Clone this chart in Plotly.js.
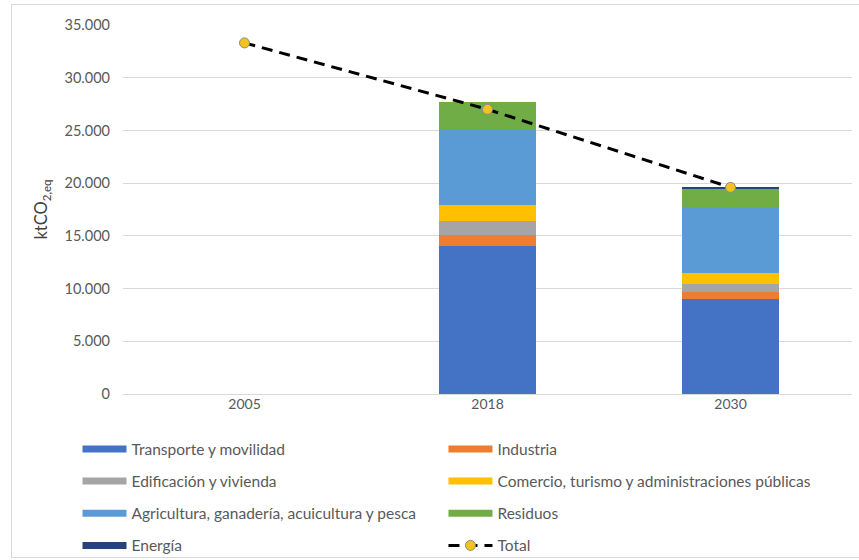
<!DOCTYPE html>
<html>
<head>
<meta charset="utf-8">
<script src="https://cdn.plot.ly/plotly-3.0.1.min.js"></script>
<style>
  html, body { margin: 0; padding: 0; background: #fff; }
  #wrap { position: relative; width: 859px; height: 560px; overflow: hidden; }
  #chart { width: 859px; height: 560px; }
  #frame { position: absolute; left: 11px; top: 4px; width: 860px; height: 552px;
           border: 1px solid #d9d9d9; pointer-events: none; }
</style>
</head>
<body>
<div id="wrap"><div id="chart"></div><div id="frame"></div></div>
<script>
// ---- data ----
const years = ['2005', '2018', '2030'];
const transporte  = [null, 14000, 9000];
const industria   = [null, 1100, 700];
const edificacion = [null, 1300, 700];
const comercio    = [null, 1500, 1100];
const agricultura = [null, 7200, 6200];
const residuos    = [null, 2600, 1700];
const energia     = [null, 0, 200];
const total       = [33300, 27000, 19600];

const seriesNames = [
  'Transporte y movilidad', 'Industria', 'Edificación y vivienda',
  'Comercio, turismo y administraciones públicas',
  'Agricultura, ganadería, acuicultura y pesca', 'Residuos', 'Energía'
];
const seriesValues = [transporte, industria, edificacion, comercio, agricultura, residuos, energia];
const colors = ['#4472C4', '#ED7D31', '#A5A5A5', '#FFC000', '#5B9BD5', '#70AD47', '#264478'];
// legend column for each series (left / right)
const legendCol = ['legend', 'legend2', 'legend', 'legend2', 'legend', 'legend2', 'legend'];

const traces = [];
seriesNames.forEach((name, i) => {
  traces.push({
    type: 'bar', x: years, y: seriesValues[i], name: name,
    marker: { color: colors[i], line: { width: 0 } },
    legendgroup: 'g' + i, showlegend: false, hoverinfo: 'x+y+name'
  });
});
// legend-only entries (wide flat swatches like the original)
seriesNames.forEach((name, i) => {
  traces.push({
    type: 'scatter', mode: 'lines', x: [null], y: [null], name: name,
    line: { color: colors[i], width: 7 },
    legendgroup: 'g' + i, legend: legendCol[i], showlegend: true, hoverinfo: 'skip'
  });
});
traces.push({
  type: 'scatter', mode: 'lines+markers', x: years, y: total, name: 'Total',
  line: { color: '#000000', width: 3, dash: '11px,7px' },
  marker: { color: '#F2C318', size: 10, line: { color: '#8a8a8a', width: 1 } },
  legendgroup: 'gt', legend: 'legend2', showlegend: true
});

const fam = 'Lato, "Liberation Sans", sans-serif';
const legendBase = {
  orientation: 'v', xanchor: 'left', yanchor: 'top', traceorder: 'grouped',
  tracegroupgap: 9, itemwidth: 44,
  font: { family: fam, size: 15.5, color: '#595959' },
  bgcolor: 'rgba(0,0,0,0)', borderwidth: 0
};

const layout = {
  width: 859, height: 560,
  margin: { l: 123, r: 7, t: 25, b: 166, autoexpand: false },
  paper_bgcolor: '#ffffff', plot_bgcolor: '#ffffff',
  font: { family: fam, size: 14, color: '#595959' },
  separators: ',.',
  barmode: 'stack', bargap: 0.6,
  xaxis: {
    type: 'category', categoryorder: 'array', categoryarray: years,
    showgrid: false, zeroline: false, showline: false, ticks: '',
    tickfont: { size: 14, color: '#595959' }, fixedrange: true
  },
  yaxis: {
    range: [0, 35000], dtick: 5000, tickformat: ',d',
    showgrid: true, gridcolor: '#d9d9d9', gridwidth: 1,
    zeroline: true, zerolinecolor: '#d9d9d9', zerolinewidth: 1,
    showline: false, ticks: '', ticklabelstandoff: 12,
    tickfont: { size: 14.5, color: '#595959' },
    title: { text: 'ktCO<sub>2,eq</sub>', font: { size: 16.5, color: '#404040' }, standoff: 12 },
    fixedrange: true
  },
  legend: Object.assign({}, legendBase, { x: -0.0624, y: -0.104 }),
  legend2: Object.assign({}, legendBase, { x: 0.4396, y: -0.104 }),
  showlegend: true
};

Plotly.newPlot('chart', traces, layout, { displayModeBar: false, responsive: false });
</script>
</body>
</html>
